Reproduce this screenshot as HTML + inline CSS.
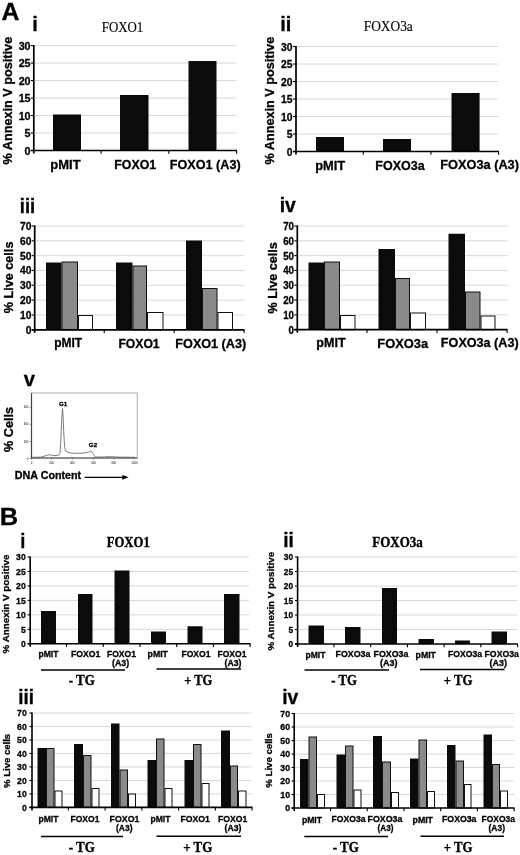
<!DOCTYPE html>
<html><head><meta charset="utf-8"><title>Figure</title>
<style>
html,body{margin:0;padding:0;background:#fff;}
svg{display:block;}
.ss{font-family:'Liberation Sans', sans-serif;fill:#000;stroke:#000;stroke-width:0.3px;}
.sfb{font-family:'Liberation Serif', serif;fill:#000;stroke:#000;stroke-width:0.4px;}
.ns{stroke:none !important;}
.sf{font-family:'Liberation Serif', serif;fill:#000;stroke:#000;stroke-width:0.15px;}
</style></head>
<body>
<svg width="520" height="855" viewBox="0 0 520 855" shape-rendering="auto">
<rect width="520" height="855" fill="#fff"/>
<text class="ss" x="1.50" y="19.75" font-size="24.4" font-weight="bold" textLength="17.90" lengthAdjust="spacingAndGlyphs">A</text>
<text class="ss" x="-0.21" y="524.50" font-size="24.4" font-weight="bold" textLength="18.42" lengthAdjust="spacingAndGlyphs">B</text>
<line x1="33.8" y1="133.02" x2="236" y2="133.02" stroke="#d8d8d8" stroke-width="1"/>
<line x1="33.8" y1="115.53" x2="236" y2="115.53" stroke="#d8d8d8" stroke-width="1"/>
<line x1="33.8" y1="98.05" x2="236" y2="98.05" stroke="#d8d8d8" stroke-width="1"/>
<line x1="33.8" y1="80.57" x2="236" y2="80.57" stroke="#d8d8d8" stroke-width="1"/>
<line x1="33.8" y1="63.08" x2="236" y2="63.08" stroke="#d8d8d8" stroke-width="1"/>
<line x1="33.8" y1="45.60" x2="236" y2="45.60" stroke="#d8d8d8" stroke-width="1"/>
<rect x="53" y="114.5" width="28" height="36.0" fill="#0b0b0b"/>
<rect x="120" y="95" width="28.5" height="55.5" fill="#0b0b0b"/>
<rect x="188.5" y="61" width="28.0" height="89.5" fill="#0b0b0b"/>
<line x1="33.8" y1="45.10" x2="33.8" y2="153.50" stroke="#000" stroke-width="1.7"/>
<line x1="30.799999999999997" y1="150.5" x2="237" y2="150.5" stroke="#000" stroke-width="1.7"/>
<line x1="30.799999999999997" y1="150.50" x2="33.8" y2="150.50" stroke="#000" stroke-width="1.1"/>
<text class="ss" x="24.62" y="154.64" font-size="11.5" font-weight="bold" textLength="5.98" lengthAdjust="spacingAndGlyphs">0</text>
<line x1="30.799999999999997" y1="133.02" x2="33.8" y2="133.02" stroke="#000" stroke-width="1.1"/>
<text class="ss" x="24.62" y="137.16" font-size="11.5" font-weight="bold" textLength="5.98" lengthAdjust="spacingAndGlyphs">5</text>
<line x1="30.799999999999997" y1="115.53" x2="33.8" y2="115.53" stroke="#000" stroke-width="1.1"/>
<text class="ss" x="18.64" y="119.67" font-size="11.5" font-weight="bold" textLength="11.96" lengthAdjust="spacingAndGlyphs">10</text>
<line x1="30.799999999999997" y1="98.05" x2="33.8" y2="98.05" stroke="#000" stroke-width="1.1"/>
<text class="ss" x="18.64" y="102.19" font-size="11.5" font-weight="bold" textLength="11.96" lengthAdjust="spacingAndGlyphs">15</text>
<line x1="30.799999999999997" y1="80.57" x2="33.8" y2="80.57" stroke="#000" stroke-width="1.1"/>
<text class="ss" x="18.64" y="84.71" font-size="11.5" font-weight="bold" textLength="11.96" lengthAdjust="spacingAndGlyphs">20</text>
<line x1="30.799999999999997" y1="63.08" x2="33.8" y2="63.08" stroke="#000" stroke-width="1.1"/>
<text class="ss" x="18.64" y="67.22" font-size="11.5" font-weight="bold" textLength="11.96" lengthAdjust="spacingAndGlyphs">25</text>
<line x1="30.799999999999997" y1="45.60" x2="33.8" y2="45.60" stroke="#000" stroke-width="1.1"/>
<text class="ss" x="18.64" y="49.74" font-size="11.5" font-weight="bold" textLength="11.96" lengthAdjust="spacingAndGlyphs">30</text>
<line x1="101.13" y1="150.5" x2="101.13" y2="153.70" stroke="#000" stroke-width="1.1"/>
<line x1="168.87" y1="150.5" x2="168.87" y2="153.70" stroke="#000" stroke-width="1.1"/>
<line x1="236.60" y1="150.5" x2="236.60" y2="153.70" stroke="#000" stroke-width="1.1"/>
<text class="ss" x="32.30" y="30.60" font-size="20" font-weight="bold" textLength="5.60" lengthAdjust="spacingAndGlyphs">i</text>
<text class="sf" x="101.71" y="31.50" font-size="14.5" font-weight="normal" textLength="41.58" lengthAdjust="spacingAndGlyphs">FOXO1</text>
<text class="ss" transform="translate(11.60,164.50) rotate(-90)" font-size="12.5" font-weight="bold" textLength="127.70" lengthAdjust="spacingAndGlyphs">% Annexin V positive</text>
<text class="ss" x="50.35" y="168.70" font-size="13" font-weight="bold" textLength="30.30" lengthAdjust="spacingAndGlyphs">pMIT</text>
<text class="ss" x="114.35" y="168.70" font-size="13" font-weight="bold" textLength="41.80" lengthAdjust="spacingAndGlyphs">FOXO1</text>
<text class="ss" x="169.85" y="168.60" font-size="13" font-weight="bold" textLength="70.80" lengthAdjust="spacingAndGlyphs">FOXO1 (A3)</text>
<line x1="296" y1="134.00" x2="498" y2="134.00" stroke="#d8d8d8" stroke-width="1"/>
<line x1="296" y1="116.50" x2="498" y2="116.50" stroke="#d8d8d8" stroke-width="1"/>
<line x1="296" y1="99.00" x2="498" y2="99.00" stroke="#d8d8d8" stroke-width="1"/>
<line x1="296" y1="81.50" x2="498" y2="81.50" stroke="#d8d8d8" stroke-width="1"/>
<line x1="296" y1="64.00" x2="498" y2="64.00" stroke="#d8d8d8" stroke-width="1"/>
<line x1="296" y1="46.50" x2="498" y2="46.50" stroke="#d8d8d8" stroke-width="1"/>
<rect x="316" y="137" width="28" height="14.5" fill="#0b0b0b"/>
<rect x="383" y="139" width="28" height="12.5" fill="#0b0b0b"/>
<rect x="451.5" y="93" width="28.100000000000023" height="58.5" fill="#0b0b0b"/>
<line x1="296" y1="46.00" x2="296" y2="154.50" stroke="#000" stroke-width="1.7"/>
<line x1="293" y1="151.5" x2="499" y2="151.5" stroke="#000" stroke-width="1.7"/>
<line x1="293" y1="151.50" x2="296" y2="151.50" stroke="#000" stroke-width="1.1"/>
<text class="ss" x="286.75" y="155.64" font-size="11.5" font-weight="bold" textLength="5.75" lengthAdjust="spacingAndGlyphs">0</text>
<line x1="293" y1="134.00" x2="296" y2="134.00" stroke="#000" stroke-width="1.1"/>
<text class="ss" x="286.75" y="138.14" font-size="11.5" font-weight="bold" textLength="5.75" lengthAdjust="spacingAndGlyphs">5</text>
<line x1="293" y1="116.50" x2="296" y2="116.50" stroke="#000" stroke-width="1.1"/>
<text class="ss" x="281.00" y="120.64" font-size="11.5" font-weight="bold" textLength="11.50" lengthAdjust="spacingAndGlyphs">10</text>
<line x1="293" y1="99.00" x2="296" y2="99.00" stroke="#000" stroke-width="1.1"/>
<text class="ss" x="281.00" y="103.14" font-size="11.5" font-weight="bold" textLength="11.50" lengthAdjust="spacingAndGlyphs">15</text>
<line x1="293" y1="81.50" x2="296" y2="81.50" stroke="#000" stroke-width="1.1"/>
<text class="ss" x="281.00" y="85.64" font-size="11.5" font-weight="bold" textLength="11.50" lengthAdjust="spacingAndGlyphs">20</text>
<line x1="293" y1="64.00" x2="296" y2="64.00" stroke="#000" stroke-width="1.1"/>
<text class="ss" x="281.00" y="68.14" font-size="11.5" font-weight="bold" textLength="11.50" lengthAdjust="spacingAndGlyphs">25</text>
<line x1="293" y1="46.50" x2="296" y2="46.50" stroke="#000" stroke-width="1.1"/>
<text class="ss" x="281.00" y="50.64" font-size="11.5" font-weight="bold" textLength="11.50" lengthAdjust="spacingAndGlyphs">30</text>
<line x1="363.27" y1="151.5" x2="363.27" y2="154.70" stroke="#000" stroke-width="1.1"/>
<line x1="430.93" y1="151.5" x2="430.93" y2="154.70" stroke="#000" stroke-width="1.1"/>
<line x1="498.60" y1="151.5" x2="498.60" y2="154.70" stroke="#000" stroke-width="1.1"/>
<text class="ss" x="280.20" y="30.50" font-size="20" font-weight="bold" textLength="11.10" lengthAdjust="spacingAndGlyphs">ii</text>
<text class="sf" x="363.71" y="31.20" font-size="14.5" font-weight="normal" textLength="49.08" lengthAdjust="spacingAndGlyphs">FOXO3a</text>
<text class="ss" transform="translate(274.20,164.50) rotate(-90)" font-size="12.5" font-weight="bold" textLength="127.70" lengthAdjust="spacingAndGlyphs">% Annexin V positive</text>
<text class="ss" x="315.15" y="169.80" font-size="13" font-weight="bold" textLength="30.00" lengthAdjust="spacingAndGlyphs">pMIT</text>
<text class="ss" x="375.35" y="170.20" font-size="13" font-weight="bold" textLength="49.30" lengthAdjust="spacingAndGlyphs">FOXO3a</text>
<text class="ss" x="440.32" y="169.20" font-size="13.5" font-weight="bold" textLength="78.65" lengthAdjust="spacingAndGlyphs">FOXO3a (A3)</text>
<line x1="34.7" y1="314.97" x2="244" y2="314.97" stroke="#d8d8d8" stroke-width="1"/>
<line x1="34.7" y1="300.14" x2="244" y2="300.14" stroke="#d8d8d8" stroke-width="1"/>
<line x1="34.7" y1="285.31" x2="244" y2="285.31" stroke="#d8d8d8" stroke-width="1"/>
<line x1="34.7" y1="270.49" x2="244" y2="270.49" stroke="#d8d8d8" stroke-width="1"/>
<line x1="34.7" y1="255.66" x2="244" y2="255.66" stroke="#d8d8d8" stroke-width="1"/>
<line x1="34.7" y1="240.83" x2="244" y2="240.83" stroke="#d8d8d8" stroke-width="1"/>
<line x1="34.7" y1="226.00" x2="244" y2="226.00" stroke="#d8d8d8" stroke-width="1"/>
<rect x="46" y="262.5" width="15.5" height="67.30000000000001" fill="#0b0b0b"/>
<rect x="62.0" y="262.0" width="15.5" height="67.80000000000001" fill="#8a8a8a" stroke="#111" stroke-width="1"/>
<rect x="78.5" y="315.5" width="14" height="14.300000000000011" fill="#fff" stroke="#111" stroke-width="1"/>
<rect x="116" y="262.5" width="16.5" height="67.30000000000001" fill="#0b0b0b"/>
<rect x="133.0" y="266.0" width="13.5" height="63.80000000000001" fill="#8a8a8a" stroke="#111" stroke-width="1"/>
<rect x="147.5" y="312.5" width="15.5" height="17.30000000000001" fill="#fff" stroke="#111" stroke-width="1"/>
<rect x="186" y="240.5" width="16" height="89.30000000000001" fill="#0b0b0b"/>
<rect x="202.5" y="288.5" width="14.5" height="41.30000000000001" fill="#8a8a8a" stroke="#111" stroke-width="1"/>
<rect x="218.0" y="312.5" width="14.5" height="17.30000000000001" fill="#fff" stroke="#111" stroke-width="1"/>
<line x1="34.7" y1="225.50" x2="34.7" y2="332.80" stroke="#000" stroke-width="1.7"/>
<line x1="31.700000000000003" y1="329.8" x2="244.5" y2="329.8" stroke="#000" stroke-width="1.7"/>
<line x1="31.700000000000003" y1="329.80" x2="34.7" y2="329.80" stroke="#000" stroke-width="1.1"/>
<text class="ss" x="25.68" y="333.69" font-size="10.8" font-weight="bold" textLength="5.72" lengthAdjust="spacingAndGlyphs">0</text>
<line x1="31.700000000000003" y1="314.97" x2="34.7" y2="314.97" stroke="#000" stroke-width="1.1"/>
<text class="ss" x="19.95" y="318.86" font-size="10.8" font-weight="bold" textLength="11.45" lengthAdjust="spacingAndGlyphs">10</text>
<line x1="31.700000000000003" y1="300.14" x2="34.7" y2="300.14" stroke="#000" stroke-width="1.1"/>
<text class="ss" x="19.95" y="304.03" font-size="10.8" font-weight="bold" textLength="11.45" lengthAdjust="spacingAndGlyphs">20</text>
<line x1="31.700000000000003" y1="285.31" x2="34.7" y2="285.31" stroke="#000" stroke-width="1.1"/>
<text class="ss" x="19.95" y="289.20" font-size="10.8" font-weight="bold" textLength="11.45" lengthAdjust="spacingAndGlyphs">30</text>
<line x1="31.700000000000003" y1="270.49" x2="34.7" y2="270.49" stroke="#000" stroke-width="1.1"/>
<text class="ss" x="19.95" y="274.37" font-size="10.8" font-weight="bold" textLength="11.45" lengthAdjust="spacingAndGlyphs">40</text>
<line x1="31.700000000000003" y1="255.66" x2="34.7" y2="255.66" stroke="#000" stroke-width="1.1"/>
<text class="ss" x="19.95" y="259.55" font-size="10.8" font-weight="bold" textLength="11.45" lengthAdjust="spacingAndGlyphs">50</text>
<line x1="31.700000000000003" y1="240.83" x2="34.7" y2="240.83" stroke="#000" stroke-width="1.1"/>
<text class="ss" x="19.95" y="244.72" font-size="10.8" font-weight="bold" textLength="11.45" lengthAdjust="spacingAndGlyphs">60</text>
<line x1="31.700000000000003" y1="226.00" x2="34.7" y2="226.00" stroke="#000" stroke-width="1.1"/>
<text class="ss" x="19.95" y="229.89" font-size="10.8" font-weight="bold" textLength="11.45" lengthAdjust="spacingAndGlyphs">70</text>
<line x1="104.23" y1="329.8" x2="104.23" y2="333.00" stroke="#000" stroke-width="1.1"/>
<line x1="174.17" y1="329.8" x2="174.17" y2="333.00" stroke="#000" stroke-width="1.1"/>
<line x1="244.10" y1="329.8" x2="244.10" y2="333.00" stroke="#000" stroke-width="1.1"/>
<text class="ss" x="19.80" y="213.00" font-size="20" font-weight="bold" textLength="15.40" lengthAdjust="spacingAndGlyphs">iii</text>
<text class="ss" transform="translate(12.70,313.20) rotate(-90)" font-size="12.5" font-weight="bold" textLength="71.60" lengthAdjust="spacingAndGlyphs">% Live cells</text>
<text class="ss" x="54.17" y="346.60" font-size="12.5" font-weight="bold" textLength="27.95" lengthAdjust="spacingAndGlyphs">pMIT</text>
<text class="ss" x="118.38" y="347.50" font-size="12.5" font-weight="bold" textLength="41.25" lengthAdjust="spacingAndGlyphs">FOXO1</text>
<text class="ss" x="175.38" y="347.50" font-size="12.5" font-weight="bold" textLength="70.75" lengthAdjust="spacingAndGlyphs">FOXO1 (A3)</text>
<line x1="297.3" y1="314.89" x2="507.5" y2="314.89" stroke="#d8d8d8" stroke-width="1"/>
<line x1="297.3" y1="300.07" x2="507.5" y2="300.07" stroke="#d8d8d8" stroke-width="1"/>
<line x1="297.3" y1="285.26" x2="507.5" y2="285.26" stroke="#d8d8d8" stroke-width="1"/>
<line x1="297.3" y1="270.44" x2="507.5" y2="270.44" stroke="#d8d8d8" stroke-width="1"/>
<line x1="297.3" y1="255.63" x2="507.5" y2="255.63" stroke="#d8d8d8" stroke-width="1"/>
<line x1="297.3" y1="240.81" x2="507.5" y2="240.81" stroke="#d8d8d8" stroke-width="1"/>
<line x1="297.3" y1="226.00" x2="507.5" y2="226.00" stroke="#d8d8d8" stroke-width="1"/>
<rect x="308.5" y="262.5" width="15.5" height="67.19999999999999" fill="#0b0b0b"/>
<rect x="324.5" y="262.0" width="15" height="67.69999999999999" fill="#8a8a8a" stroke="#111" stroke-width="1"/>
<rect x="340.5" y="315.5" width="14.5" height="14.199999999999989" fill="#fff" stroke="#111" stroke-width="1"/>
<rect x="378.5" y="249" width="16.5" height="80.69999999999999" fill="#0b0b0b"/>
<rect x="395.5" y="278.5" width="14" height="51.19999999999999" fill="#8a8a8a" stroke="#111" stroke-width="1"/>
<rect x="410.5" y="313.0" width="15" height="16.69999999999999" fill="#fff" stroke="#111" stroke-width="1"/>
<rect x="448.5" y="233.75" width="16.5" height="95.94999999999999" fill="#0b0b0b"/>
<rect x="465.5" y="292.0" width="14.5" height="37.69999999999999" fill="#8a8a8a" stroke="#111" stroke-width="1"/>
<rect x="481.0" y="316.0" width="14.0" height="13.699999999999989" fill="#fff" stroke="#111" stroke-width="1"/>
<line x1="297.3" y1="225.50" x2="297.3" y2="332.70" stroke="#000" stroke-width="1.7"/>
<line x1="294.3" y1="329.7" x2="507.5" y2="329.7" stroke="#000" stroke-width="1.7"/>
<line x1="294.3" y1="329.70" x2="297.3" y2="329.70" stroke="#000" stroke-width="1.1"/>
<text class="ss" x="288.60" y="333.59" font-size="10.8" font-weight="bold" textLength="5.40" lengthAdjust="spacingAndGlyphs">0</text>
<line x1="294.3" y1="314.89" x2="297.3" y2="314.89" stroke="#000" stroke-width="1.1"/>
<text class="ss" x="283.20" y="318.77" font-size="10.8" font-weight="bold" textLength="10.80" lengthAdjust="spacingAndGlyphs">10</text>
<line x1="294.3" y1="300.07" x2="297.3" y2="300.07" stroke="#000" stroke-width="1.1"/>
<text class="ss" x="283.20" y="303.96" font-size="10.8" font-weight="bold" textLength="10.80" lengthAdjust="spacingAndGlyphs">20</text>
<line x1="294.3" y1="285.26" x2="297.3" y2="285.26" stroke="#000" stroke-width="1.1"/>
<text class="ss" x="283.20" y="289.15" font-size="10.8" font-weight="bold" textLength="10.80" lengthAdjust="spacingAndGlyphs">30</text>
<line x1="294.3" y1="270.44" x2="297.3" y2="270.44" stroke="#000" stroke-width="1.1"/>
<text class="ss" x="283.20" y="274.33" font-size="10.8" font-weight="bold" textLength="10.80" lengthAdjust="spacingAndGlyphs">40</text>
<line x1="294.3" y1="255.63" x2="297.3" y2="255.63" stroke="#000" stroke-width="1.1"/>
<text class="ss" x="283.20" y="259.52" font-size="10.8" font-weight="bold" textLength="10.80" lengthAdjust="spacingAndGlyphs">50</text>
<line x1="294.3" y1="240.81" x2="297.3" y2="240.81" stroke="#000" stroke-width="1.1"/>
<text class="ss" x="283.20" y="244.70" font-size="10.8" font-weight="bold" textLength="10.80" lengthAdjust="spacingAndGlyphs">60</text>
<line x1="294.3" y1="226.00" x2="297.3" y2="226.00" stroke="#000" stroke-width="1.1"/>
<text class="ss" x="283.20" y="229.89" font-size="10.8" font-weight="bold" textLength="10.80" lengthAdjust="spacingAndGlyphs">70</text>
<line x1="366.97" y1="329.7" x2="366.97" y2="332.90" stroke="#000" stroke-width="1.1"/>
<line x1="437.03" y1="329.7" x2="437.03" y2="332.90" stroke="#000" stroke-width="1.1"/>
<line x1="507.10" y1="329.7" x2="507.10" y2="332.90" stroke="#000" stroke-width="1.1"/>
<text class="ss" x="279.72" y="212.20" font-size="19.6" font-weight="bold" textLength="16.07" lengthAdjust="spacingAndGlyphs">iv</text>
<text class="ss" transform="translate(276.80,313.50) rotate(-90)" font-size="12.5" font-weight="bold" textLength="71.30" lengthAdjust="spacingAndGlyphs">% Live cells</text>
<text class="ss" x="316.38" y="347.00" font-size="12.5" font-weight="bold" textLength="29.25" lengthAdjust="spacingAndGlyphs">pMIT</text>
<text class="ss" x="377.38" y="348.00" font-size="12.5" font-weight="bold" textLength="50.75" lengthAdjust="spacingAndGlyphs">FOXO3a</text>
<text class="ss" x="440.88" y="347.00" font-size="12.5" font-weight="bold" textLength="77.75" lengthAdjust="spacingAndGlyphs">FOXO3a (A3)</text>
<text class="ss" x="23.78" y="385.60" font-size="21" font-weight="bold" textLength="11.24" lengthAdjust="spacingAndGlyphs">v</text>
<rect x="31.5" y="393" width="105.7" height="65" fill="#fff" stroke="#9a9a9a" stroke-width="0.8"/>
<line x1="31.5" y1="393" x2="31.5" y2="458.4" stroke="#444" stroke-width="1.2"/>
<line x1="31" y1="458" x2="137.5" y2="458" stroke="#444" stroke-width="1.2"/>
<polyline fill="none" stroke="#5c5c5c" stroke-width="0.8" points="32.3,457.3 38,457.2 41.5,457 44,456.3 46.2,455.5 48,455 49.8,454.8 52,455.2 53.8,455.5 56,455.6 57.8,455.4 59.2,454.6 60,453 60.6,445 61.2,431.5 61.9,416 62.5,408.5 63.1,416 63.7,431.5 64.3,442 64.9,448.5 65.8,450.8 67,451.8 69,452.6 70.8,453 73,453.3 75,453 77,453.4 79,453.1 81,453.3 83,453 85.5,452.8 87.7,452.4 89.5,451.7 90.8,451 91.8,452 93.2,453.7 94.3,455.6 95.4,457 100,457 104.6,456.9 110.8,456.7 116,457 125,457.2 135.4,457.3"/>
<text class="ss" x="63.1" y="406.2" font-size="6.2" font-weight="bold" text-anchor="middle">G1</text>
<text class="ss" x="93" y="447.3" font-size="6.2" font-weight="bold" text-anchor="middle">G2</text>
<text class="ss ns" x="28.3" y="408.4" font-size="2.8" fill="#444" text-anchor="end">600</text>
<line x1="29.5" y1="407.4" x2="31.5" y2="407.4" stroke="#555" stroke-width="0.6"/>
<text class="ss ns" x="28.3" y="425.3" font-size="2.8" fill="#444" text-anchor="end">400</text>
<line x1="29.5" y1="424.3" x2="31.5" y2="424.3" stroke="#555" stroke-width="0.6"/>
<text class="ss ns" x="28.3" y="442.5" font-size="2.8" fill="#444" text-anchor="end">200</text>
<line x1="29.5" y1="441.5" x2="31.5" y2="441.5" stroke="#555" stroke-width="0.6"/>
<text class="ss ns" x="28.3" y="459.5" font-size="2.8" fill="#444" text-anchor="end">0</text>
<line x1="29.5" y1="458.5" x2="31.5" y2="458.5" stroke="#555" stroke-width="0.6"/>
<text class="ss ns" x="31.5" y="463.6" font-size="2.8" fill="#444" text-anchor="middle">0</text>
<line x1="31.5" y1="458" x2="31.5" y2="459.6" stroke="#555" stroke-width="0.6"/>
<text class="ss ns" x="51.5" y="463.6" font-size="2.8" fill="#444" text-anchor="middle">200</text>
<line x1="51.5" y1="458" x2="51.5" y2="459.6" stroke="#555" stroke-width="0.6"/>
<text class="ss ns" x="72.3" y="463.6" font-size="2.8" fill="#444" text-anchor="middle">400</text>
<line x1="72.3" y1="458" x2="72.3" y2="459.6" stroke="#555" stroke-width="0.6"/>
<text class="ss ns" x="93.5" y="463.6" font-size="2.8" fill="#444" text-anchor="middle">600</text>
<line x1="93.5" y1="458" x2="93.5" y2="459.6" stroke="#555" stroke-width="0.6"/>
<text class="ss ns" x="113.8" y="463.6" font-size="2.8" fill="#444" text-anchor="middle">800</text>
<line x1="113.8" y1="458" x2="113.8" y2="459.6" stroke="#555" stroke-width="0.6"/>
<text class="ss ns" x="134.4" y="463.6" font-size="2.8" fill="#444" text-anchor="middle">1000</text>
<line x1="134.4" y1="458" x2="134.4" y2="459.6" stroke="#555" stroke-width="0.6"/>
<text class="ss" transform="translate(13.00,452.00) rotate(-90)" font-size="12.5" font-weight="bold" textLength="45.00" lengthAdjust="spacingAndGlyphs">% Cells</text>
<text class="ss" x="14.88" y="478.70" font-size="10.5" font-weight="bold" textLength="66.25" lengthAdjust="spacingAndGlyphs">DNA Content</text>
<line x1="84.6" y1="477.3" x2="124" y2="477.3" stroke="#000" stroke-width="1.2"/>
<polygon points="122.3,474.9 128.6,477.3 122.3,479.7" fill="#000"/>
<line x1="30.2" y1="629.33" x2="249" y2="629.33" stroke="#d8d8d8" stroke-width="1"/>
<line x1="30.2" y1="614.87" x2="249" y2="614.87" stroke="#d8d8d8" stroke-width="1"/>
<line x1="30.2" y1="600.40" x2="249" y2="600.40" stroke="#d8d8d8" stroke-width="1"/>
<line x1="30.2" y1="585.93" x2="249" y2="585.93" stroke="#d8d8d8" stroke-width="1"/>
<line x1="30.2" y1="571.47" x2="249" y2="571.47" stroke="#d8d8d8" stroke-width="1"/>
<line x1="30.2" y1="557.00" x2="249" y2="557.00" stroke="#d8d8d8" stroke-width="1"/>
<rect x="41" y="611" width="15" height="32.799999999999955" fill="#0b0b0b"/>
<rect x="78" y="594" width="14.5" height="49.799999999999955" fill="#0b0b0b"/>
<rect x="114.5" y="570.5" width="15.0" height="73.29999999999995" fill="#0b0b0b"/>
<rect x="151" y="631.5" width="15" height="12.299999999999955" fill="#0b0b0b"/>
<rect x="187.5" y="626.25" width="15.0" height="17.549999999999955" fill="#0b0b0b"/>
<rect x="224" y="594" width="15.5" height="49.799999999999955" fill="#0b0b0b"/>
<line x1="30.2" y1="556.50" x2="30.2" y2="646.80" stroke="#000" stroke-width="1.6"/>
<line x1="27.599999999999998" y1="643.8" x2="250.5" y2="643.8" stroke="#000" stroke-width="1.6"/>
<line x1="27.599999999999998" y1="643.80" x2="30.2" y2="643.80" stroke="#000" stroke-width="1.1"/>
<text class="ss" x="20.90" y="647.26" font-size="9.6" font-weight="bold" textLength="4.80" lengthAdjust="spacingAndGlyphs">0</text>
<line x1="27.599999999999998" y1="629.33" x2="30.2" y2="629.33" stroke="#000" stroke-width="1.1"/>
<text class="ss" x="20.90" y="632.79" font-size="9.6" font-weight="bold" textLength="4.80" lengthAdjust="spacingAndGlyphs">5</text>
<line x1="27.599999999999998" y1="614.87" x2="30.2" y2="614.87" stroke="#000" stroke-width="1.1"/>
<text class="ss" x="16.10" y="618.32" font-size="9.6" font-weight="bold" textLength="9.60" lengthAdjust="spacingAndGlyphs">10</text>
<line x1="27.599999999999998" y1="600.40" x2="30.2" y2="600.40" stroke="#000" stroke-width="1.1"/>
<text class="ss" x="16.10" y="603.86" font-size="9.6" font-weight="bold" textLength="9.60" lengthAdjust="spacingAndGlyphs">15</text>
<line x1="27.599999999999998" y1="585.93" x2="30.2" y2="585.93" stroke="#000" stroke-width="1.1"/>
<text class="ss" x="16.10" y="589.39" font-size="9.6" font-weight="bold" textLength="9.60" lengthAdjust="spacingAndGlyphs">20</text>
<line x1="27.599999999999998" y1="571.47" x2="30.2" y2="571.47" stroke="#000" stroke-width="1.1"/>
<text class="ss" x="16.10" y="574.92" font-size="9.6" font-weight="bold" textLength="9.60" lengthAdjust="spacingAndGlyphs">25</text>
<line x1="27.599999999999998" y1="557.00" x2="30.2" y2="557.00" stroke="#000" stroke-width="1.1"/>
<text class="ss" x="16.10" y="560.46" font-size="9.6" font-weight="bold" textLength="9.60" lengthAdjust="spacingAndGlyphs">30</text>
<line x1="66.52" y1="643.8" x2="66.52" y2="647.00" stroke="#000" stroke-width="1.1"/>
<line x1="103.23" y1="643.8" x2="103.23" y2="647.00" stroke="#000" stroke-width="1.1"/>
<line x1="139.95" y1="643.8" x2="139.95" y2="647.00" stroke="#000" stroke-width="1.1"/>
<line x1="176.67" y1="643.8" x2="176.67" y2="647.00" stroke="#000" stroke-width="1.1"/>
<line x1="213.38" y1="643.8" x2="213.38" y2="647.00" stroke="#000" stroke-width="1.1"/>
<line x1="250.10" y1="643.8" x2="250.10" y2="647.00" stroke="#000" stroke-width="1.1"/>
<text class="ss" x="20.20" y="547.50" font-size="20" font-weight="bold" textLength="5.10" lengthAdjust="spacingAndGlyphs">i</text>
<text class="sfb" x="106.71" y="547.00" font-size="14.5" font-weight="bold" textLength="43.08" lengthAdjust="spacingAndGlyphs">FOXO1</text>
<text class="ss" transform="translate(9.10,653.39) rotate(-90)" font-size="9.7" font-weight="bold" textLength="98.78" lengthAdjust="spacingAndGlyphs">% Annexin V positive</text>
<text class="ss" x="38.54" y="657.00" font-size="9.2" font-weight="bold" textLength="19.92" lengthAdjust="spacingAndGlyphs">pMIT</text>
<text class="ss" x="71.04" y="656.50" font-size="9.2" font-weight="bold" textLength="29.42" lengthAdjust="spacingAndGlyphs">FOXO1</text>
<text class="ss" x="107.04" y="656.50" font-size="9.2" font-weight="bold" textLength="28.92" lengthAdjust="spacingAndGlyphs">FOXO1</text>
<text class="ss" x="112.04" y="666.00" font-size="9.2" font-weight="bold" textLength="17.17" lengthAdjust="spacingAndGlyphs">(A3)</text>
<text class="ss" x="147.54" y="657.00" font-size="9.2" font-weight="bold" textLength="20.42" lengthAdjust="spacingAndGlyphs">pMIT</text>
<text class="ss" x="181.54" y="656.50" font-size="9.2" font-weight="bold" textLength="28.92" lengthAdjust="spacingAndGlyphs">FOXO1</text>
<text class="ss" x="217.54" y="656.50" font-size="9.2" font-weight="bold" textLength="28.92" lengthAdjust="spacingAndGlyphs">FOXO1</text>
<text class="ss" x="224.54" y="665.50" font-size="9.2" font-weight="bold" textLength="16.92" lengthAdjust="spacingAndGlyphs">(A3)</text>
<line x1="41" y1="670.1" x2="125" y2="670.1" stroke="#000" stroke-width="1.5"/>
<line x1="156.5" y1="669" x2="241" y2="669" stroke="#000" stroke-width="1.5"/>
<text class="sfb" x="68.71" y="685.00" font-size="14.6" font-weight="bold" textLength="26.08" lengthAdjust="spacingAndGlyphs">- TG</text>
<text class="sfb" x="184.21" y="685.00" font-size="14.6" font-weight="bold" textLength="28.08" lengthAdjust="spacingAndGlyphs">+ TG</text>
<line x1="297.6" y1="629.50" x2="517.5" y2="629.50" stroke="#d8d8d8" stroke-width="1"/>
<line x1="297.6" y1="615.00" x2="517.5" y2="615.00" stroke="#d8d8d8" stroke-width="1"/>
<line x1="297.6" y1="600.50" x2="517.5" y2="600.50" stroke="#d8d8d8" stroke-width="1"/>
<line x1="297.6" y1="586.00" x2="517.5" y2="586.00" stroke="#d8d8d8" stroke-width="1"/>
<line x1="297.6" y1="571.50" x2="517.5" y2="571.50" stroke="#d8d8d8" stroke-width="1"/>
<line x1="297.6" y1="557.00" x2="517.5" y2="557.00" stroke="#d8d8d8" stroke-width="1"/>
<rect x="308.5" y="625.5" width="15.5" height="18.5" fill="#0b0b0b"/>
<rect x="345" y="627" width="15.5" height="17" fill="#0b0b0b"/>
<rect x="382" y="588" width="15" height="56" fill="#0b0b0b"/>
<rect x="418.5" y="639" width="15.5" height="5" fill="#0b0b0b"/>
<rect x="455" y="640.5" width="15" height="3.5" fill="#0b0b0b"/>
<rect x="491.5" y="631.5" width="15.5" height="12.5" fill="#0b0b0b"/>
<line x1="297.6" y1="556.50" x2="297.6" y2="647.00" stroke="#000" stroke-width="1.6"/>
<line x1="295.0" y1="644" x2="518" y2="644" stroke="#000" stroke-width="1.6"/>
<line x1="295.0" y1="644.00" x2="297.6" y2="644.00" stroke="#000" stroke-width="1.1"/>
<text class="ss" x="288.39" y="647.46" font-size="9.6" font-weight="bold" textLength="4.61" lengthAdjust="spacingAndGlyphs">0</text>
<line x1="295.0" y1="629.50" x2="297.6" y2="629.50" stroke="#000" stroke-width="1.1"/>
<text class="ss" x="288.39" y="632.96" font-size="9.6" font-weight="bold" textLength="4.61" lengthAdjust="spacingAndGlyphs">5</text>
<line x1="295.0" y1="615.00" x2="297.6" y2="615.00" stroke="#000" stroke-width="1.1"/>
<text class="ss" x="283.78" y="618.46" font-size="9.6" font-weight="bold" textLength="9.22" lengthAdjust="spacingAndGlyphs">10</text>
<line x1="295.0" y1="600.50" x2="297.6" y2="600.50" stroke="#000" stroke-width="1.1"/>
<text class="ss" x="283.78" y="603.96" font-size="9.6" font-weight="bold" textLength="9.22" lengthAdjust="spacingAndGlyphs">15</text>
<line x1="295.0" y1="586.00" x2="297.6" y2="586.00" stroke="#000" stroke-width="1.1"/>
<text class="ss" x="283.78" y="589.46" font-size="9.6" font-weight="bold" textLength="9.22" lengthAdjust="spacingAndGlyphs">20</text>
<line x1="295.0" y1="571.50" x2="297.6" y2="571.50" stroke="#000" stroke-width="1.1"/>
<text class="ss" x="283.78" y="574.96" font-size="9.6" font-weight="bold" textLength="9.22" lengthAdjust="spacingAndGlyphs">25</text>
<line x1="295.0" y1="557.00" x2="297.6" y2="557.00" stroke="#000" stroke-width="1.1"/>
<text class="ss" x="283.78" y="560.46" font-size="9.6" font-weight="bold" textLength="9.22" lengthAdjust="spacingAndGlyphs">30</text>
<line x1="333.93" y1="644" x2="333.93" y2="647.20" stroke="#000" stroke-width="1.1"/>
<line x1="370.67" y1="644" x2="370.67" y2="647.20" stroke="#000" stroke-width="1.1"/>
<line x1="407.40" y1="644" x2="407.40" y2="647.20" stroke="#000" stroke-width="1.1"/>
<line x1="444.13" y1="644" x2="444.13" y2="647.20" stroke="#000" stroke-width="1.1"/>
<line x1="480.87" y1="644" x2="480.87" y2="647.20" stroke="#000" stroke-width="1.1"/>
<line x1="517.60" y1="644" x2="517.60" y2="647.20" stroke="#000" stroke-width="1.1"/>
<text class="ss" x="283.20" y="547.00" font-size="20" font-weight="bold" textLength="10.60" lengthAdjust="spacingAndGlyphs">ii</text>
<text class="sfb" x="372.21" y="546.70" font-size="14.5" font-weight="bold" textLength="50.58" lengthAdjust="spacingAndGlyphs">FOXO3a</text>
<text class="ss" transform="translate(274.20,650.59) rotate(-90)" font-size="9.7" font-weight="bold" textLength="98.68" lengthAdjust="spacingAndGlyphs">% Annexin V positive</text>
<text class="ss" x="305.54" y="657.50" font-size="9.2" font-weight="bold" textLength="19.92" lengthAdjust="spacingAndGlyphs">pMIT</text>
<text class="ss" x="335.54" y="657.00" font-size="9.2" font-weight="bold" textLength="34.92" lengthAdjust="spacingAndGlyphs">FOXO3a</text>
<text class="ss" x="373.54" y="657.00" font-size="9.2" font-weight="bold" textLength="34.92" lengthAdjust="spacingAndGlyphs">FOXO3a</text>
<text class="ss" x="380.04" y="665.50" font-size="9.2" font-weight="bold" textLength="17.42" lengthAdjust="spacingAndGlyphs">(A3)</text>
<text class="ss" x="415.54" y="657.50" font-size="9.2" font-weight="bold" textLength="20.42" lengthAdjust="spacingAndGlyphs">pMIT</text>
<text class="ss" x="448.04" y="657.00" font-size="9.2" font-weight="bold" textLength="33.92" lengthAdjust="spacingAndGlyphs">FOXO3a</text>
<text class="ss" x="484.54" y="657.00" font-size="9.2" font-weight="bold" textLength="34.42" lengthAdjust="spacingAndGlyphs">FOXO3a</text>
<text class="ss" x="489.54" y="666.00" font-size="9.2" font-weight="bold" textLength="17.42" lengthAdjust="spacingAndGlyphs">(A3)</text>
<line x1="304.5" y1="670" x2="389" y2="670" stroke="#000" stroke-width="1.5"/>
<line x1="420" y1="669.5" x2="504.5" y2="669.5" stroke="#000" stroke-width="1.5"/>
<text class="sfb" x="331.21" y="685.00" font-size="14.6" font-weight="bold" textLength="25.58" lengthAdjust="spacingAndGlyphs">- TG</text>
<text class="sfb" x="443.71" y="685.00" font-size="14.6" font-weight="bold" textLength="28.58" lengthAdjust="spacingAndGlyphs">+ TG</text>
<line x1="32" y1="793.91" x2="251.5" y2="793.91" stroke="#d8d8d8" stroke-width="1"/>
<line x1="32" y1="780.43" x2="251.5" y2="780.43" stroke="#d8d8d8" stroke-width="1"/>
<line x1="32" y1="766.94" x2="251.5" y2="766.94" stroke="#d8d8d8" stroke-width="1"/>
<line x1="32" y1="753.46" x2="251.5" y2="753.46" stroke="#d8d8d8" stroke-width="1"/>
<line x1="32" y1="739.97" x2="251.5" y2="739.97" stroke="#d8d8d8" stroke-width="1"/>
<line x1="32" y1="726.49" x2="251.5" y2="726.49" stroke="#d8d8d8" stroke-width="1"/>
<line x1="32" y1="713.00" x2="251.5" y2="713.00" stroke="#d8d8d8" stroke-width="1"/>
<rect x="37.5" y="748" width="8.5" height="59.39999999999998" fill="#0b0b0b"/>
<rect x="46.5" y="748.5" width="7.5" height="58.89999999999998" fill="#8a8a8a" stroke="#111" stroke-width="1"/>
<rect x="55.0" y="791.0" width="7.0" height="16.399999999999977" fill="#fff" stroke="#111" stroke-width="1"/>
<rect x="74" y="744" width="9" height="63.39999999999998" fill="#0b0b0b"/>
<rect x="83.5" y="755.5" width="7.5" height="51.89999999999998" fill="#8a8a8a" stroke="#111" stroke-width="1"/>
<rect x="92.0" y="788.5" width="7.0" height="18.899999999999977" fill="#fff" stroke="#111" stroke-width="1"/>
<rect x="111" y="723.5" width="8.5" height="83.89999999999998" fill="#0b0b0b"/>
<rect x="120.0" y="770.0" width="7.5" height="37.39999999999998" fill="#8a8a8a" stroke="#111" stroke-width="1"/>
<rect x="128.5" y="794.0" width="7" height="13.399999999999977" fill="#fff" stroke="#111" stroke-width="1"/>
<rect x="147.5" y="760" width="8.5" height="47.39999999999998" fill="#0b0b0b"/>
<rect x="156.5" y="739.0" width="7.5" height="68.39999999999998" fill="#8a8a8a" stroke="#111" stroke-width="1"/>
<rect x="165.0" y="788.5" width="7.0" height="18.899999999999977" fill="#fff" stroke="#111" stroke-width="1"/>
<rect x="184.5" y="760" width="8.5" height="47.39999999999998" fill="#0b0b0b"/>
<rect x="193.5" y="744.5" width="7.5" height="62.89999999999998" fill="#8a8a8a" stroke="#111" stroke-width="1"/>
<rect x="202.0" y="783.5" width="7.0" height="23.899999999999977" fill="#fff" stroke="#111" stroke-width="1"/>
<rect x="221" y="730.5" width="9" height="76.89999999999998" fill="#0b0b0b"/>
<rect x="230.5" y="766.0" width="7" height="41.39999999999998" fill="#8a8a8a" stroke="#111" stroke-width="1"/>
<rect x="238.5" y="791.0" width="7.5" height="16.399999999999977" fill="#fff" stroke="#111" stroke-width="1"/>
<line x1="32" y1="712.50" x2="32" y2="810.40" stroke="#000" stroke-width="1.6"/>
<line x1="29.4" y1="807.4" x2="252.5" y2="807.4" stroke="#000" stroke-width="1.6"/>
<line x1="29.4" y1="807.40" x2="32" y2="807.40" stroke="#000" stroke-width="1.1"/>
<text class="ss" x="21.90" y="810.86" font-size="9.6" font-weight="bold" textLength="4.80" lengthAdjust="spacingAndGlyphs">0</text>
<line x1="29.4" y1="793.91" x2="32" y2="793.91" stroke="#000" stroke-width="1.1"/>
<text class="ss" x="17.10" y="797.37" font-size="9.6" font-weight="bold" textLength="9.60" lengthAdjust="spacingAndGlyphs">10</text>
<line x1="29.4" y1="780.43" x2="32" y2="780.43" stroke="#000" stroke-width="1.1"/>
<text class="ss" x="17.10" y="783.88" font-size="9.6" font-weight="bold" textLength="9.60" lengthAdjust="spacingAndGlyphs">20</text>
<line x1="29.4" y1="766.94" x2="32" y2="766.94" stroke="#000" stroke-width="1.1"/>
<text class="ss" x="17.10" y="770.40" font-size="9.6" font-weight="bold" textLength="9.60" lengthAdjust="spacingAndGlyphs">30</text>
<line x1="29.4" y1="753.46" x2="32" y2="753.46" stroke="#000" stroke-width="1.1"/>
<text class="ss" x="17.10" y="756.91" font-size="9.6" font-weight="bold" textLength="9.60" lengthAdjust="spacingAndGlyphs">40</text>
<line x1="29.4" y1="739.97" x2="32" y2="739.97" stroke="#000" stroke-width="1.1"/>
<text class="ss" x="17.10" y="743.43" font-size="9.6" font-weight="bold" textLength="9.60" lengthAdjust="spacingAndGlyphs">50</text>
<line x1="29.4" y1="726.49" x2="32" y2="726.49" stroke="#000" stroke-width="1.1"/>
<text class="ss" x="17.10" y="729.94" font-size="9.6" font-weight="bold" textLength="9.60" lengthAdjust="spacingAndGlyphs">60</text>
<line x1="29.4" y1="713.00" x2="32" y2="713.00" stroke="#000" stroke-width="1.1"/>
<text class="ss" x="17.10" y="716.46" font-size="9.6" font-weight="bold" textLength="9.60" lengthAdjust="spacingAndGlyphs">70</text>
<line x1="68.35" y1="807.4" x2="68.35" y2="810.60" stroke="#000" stroke-width="1.1"/>
<line x1="105.10" y1="807.4" x2="105.10" y2="810.60" stroke="#000" stroke-width="1.1"/>
<line x1="141.85" y1="807.4" x2="141.85" y2="810.60" stroke="#000" stroke-width="1.1"/>
<line x1="178.60" y1="807.4" x2="178.60" y2="810.60" stroke="#000" stroke-width="1.1"/>
<line x1="215.35" y1="807.4" x2="215.35" y2="810.60" stroke="#000" stroke-width="1.1"/>
<line x1="252.10" y1="807.4" x2="252.10" y2="810.60" stroke="#000" stroke-width="1.1"/>
<text class="ss" x="18.20" y="704.20" font-size="20" font-weight="bold" textLength="15.70" lengthAdjust="spacingAndGlyphs">iii</text>
<text class="ss" transform="translate(9.80,787.88) rotate(-90)" font-size="9.5" font-weight="bold" textLength="54.06" lengthAdjust="spacingAndGlyphs">% Live cells</text>
<text class="ss" x="38.54" y="822.00" font-size="9.2" font-weight="bold" textLength="19.92" lengthAdjust="spacingAndGlyphs">pMIT</text>
<text class="ss" x="70.54" y="822.00" font-size="9.2" font-weight="bold" textLength="28.92" lengthAdjust="spacingAndGlyphs">FOXO1</text>
<text class="ss" x="109.54" y="822.00" font-size="9.2" font-weight="bold" textLength="29.92" lengthAdjust="spacingAndGlyphs">FOXO1</text>
<text class="ss" x="116.04" y="830.50" font-size="9.2" font-weight="bold" textLength="16.42" lengthAdjust="spacingAndGlyphs">(A3)</text>
<text class="ss" x="150.54" y="822.00" font-size="9.2" font-weight="bold" textLength="19.92" lengthAdjust="spacingAndGlyphs">pMIT</text>
<text class="ss" x="180.54" y="821.50" font-size="9.2" font-weight="bold" textLength="29.42" lengthAdjust="spacingAndGlyphs">FOXO1</text>
<text class="ss" x="218.04" y="821.50" font-size="9.2" font-weight="bold" textLength="29.42" lengthAdjust="spacingAndGlyphs">FOXO1</text>
<text class="ss" x="224.54" y="831.00" font-size="9.2" font-weight="bold" textLength="16.92" lengthAdjust="spacingAndGlyphs">(A3)</text>
<line x1="41" y1="836.6" x2="123" y2="836.6" stroke="#000" stroke-width="1.5"/>
<line x1="156.5" y1="836.2" x2="241" y2="836.2" stroke="#000" stroke-width="1.5"/>
<text class="sfb" x="68.71" y="851.50" font-size="14.6" font-weight="bold" textLength="26.08" lengthAdjust="spacingAndGlyphs">- TG</text>
<text class="sfb" x="183.21" y="851.50" font-size="14.6" font-weight="bold" textLength="29.08" lengthAdjust="spacingAndGlyphs">+ TG</text>
<line x1="294.2" y1="794.50" x2="514" y2="794.50" stroke="#d8d8d8" stroke-width="1"/>
<line x1="294.2" y1="781.00" x2="514" y2="781.00" stroke="#d8d8d8" stroke-width="1"/>
<line x1="294.2" y1="767.50" x2="514" y2="767.50" stroke="#d8d8d8" stroke-width="1"/>
<line x1="294.2" y1="754.00" x2="514" y2="754.00" stroke="#d8d8d8" stroke-width="1"/>
<line x1="294.2" y1="740.50" x2="514" y2="740.50" stroke="#d8d8d8" stroke-width="1"/>
<line x1="294.2" y1="727.00" x2="514" y2="727.00" stroke="#d8d8d8" stroke-width="1"/>
<line x1="294.2" y1="713.50" x2="514" y2="713.50" stroke="#d8d8d8" stroke-width="1"/>
<rect x="300" y="759" width="8.5" height="49" fill="#0b0b0b"/>
<rect x="309.0" y="737.0" width="7.5" height="71.0" fill="#8a8a8a" stroke="#111" stroke-width="1"/>
<rect x="317.5" y="794.5" width="7" height="13.5" fill="#fff" stroke="#111" stroke-width="1"/>
<rect x="336.5" y="754.5" width="8.5" height="53.5" fill="#0b0b0b"/>
<rect x="345.5" y="746.0" width="7.5" height="62.0" fill="#8a8a8a" stroke="#111" stroke-width="1"/>
<rect x="354.0" y="790.0" width="7.0" height="18.0" fill="#fff" stroke="#111" stroke-width="1"/>
<rect x="373" y="736" width="9" height="72" fill="#0b0b0b"/>
<rect x="382.5" y="762.0" width="8" height="46.0" fill="#8a8a8a" stroke="#111" stroke-width="1"/>
<rect x="391.5" y="792.5" width="7" height="15.5" fill="#fff" stroke="#111" stroke-width="1"/>
<rect x="410" y="758.5" width="8.5" height="49.5" fill="#0b0b0b"/>
<rect x="419.0" y="740.0" width="7.5" height="68.0" fill="#8a8a8a" stroke="#111" stroke-width="1"/>
<rect x="427.5" y="791.5" width="7" height="16.5" fill="#fff" stroke="#111" stroke-width="1"/>
<rect x="447" y="745" width="8.5" height="63" fill="#0b0b0b"/>
<rect x="456.0" y="761.0" width="7.5" height="47.0" fill="#8a8a8a" stroke="#111" stroke-width="1"/>
<rect x="464.5" y="784.5" width="6.5" height="23.5" fill="#fff" stroke="#111" stroke-width="1"/>
<rect x="483.5" y="734.5" width="8.5" height="73.5" fill="#0b0b0b"/>
<rect x="492.5" y="764.5" width="7" height="43.5" fill="#8a8a8a" stroke="#111" stroke-width="1"/>
<rect x="500.5" y="791.0" width="7" height="17.0" fill="#fff" stroke="#111" stroke-width="1"/>
<line x1="294.2" y1="713.00" x2="294.2" y2="811.00" stroke="#000" stroke-width="1.6"/>
<line x1="291.59999999999997" y1="808" x2="514.5" y2="808" stroke="#000" stroke-width="1.6"/>
<line x1="291.59999999999997" y1="808.00" x2="294.2" y2="808.00" stroke="#000" stroke-width="1.1"/>
<text class="ss" x="285.20" y="811.46" font-size="9.6" font-weight="bold" textLength="4.90" lengthAdjust="spacingAndGlyphs">0</text>
<line x1="291.59999999999997" y1="794.50" x2="294.2" y2="794.50" stroke="#000" stroke-width="1.1"/>
<text class="ss" x="280.31" y="797.96" font-size="9.6" font-weight="bold" textLength="9.79" lengthAdjust="spacingAndGlyphs">10</text>
<line x1="291.59999999999997" y1="781.00" x2="294.2" y2="781.00" stroke="#000" stroke-width="1.1"/>
<text class="ss" x="280.31" y="784.46" font-size="9.6" font-weight="bold" textLength="9.79" lengthAdjust="spacingAndGlyphs">20</text>
<line x1="291.59999999999997" y1="767.50" x2="294.2" y2="767.50" stroke="#000" stroke-width="1.1"/>
<text class="ss" x="280.31" y="770.96" font-size="9.6" font-weight="bold" textLength="9.79" lengthAdjust="spacingAndGlyphs">30</text>
<line x1="291.59999999999997" y1="754.00" x2="294.2" y2="754.00" stroke="#000" stroke-width="1.1"/>
<text class="ss" x="280.31" y="757.46" font-size="9.6" font-weight="bold" textLength="9.79" lengthAdjust="spacingAndGlyphs">40</text>
<line x1="291.59999999999997" y1="740.50" x2="294.2" y2="740.50" stroke="#000" stroke-width="1.1"/>
<text class="ss" x="280.31" y="743.96" font-size="9.6" font-weight="bold" textLength="9.79" lengthAdjust="spacingAndGlyphs">50</text>
<line x1="291.59999999999997" y1="727.00" x2="294.2" y2="727.00" stroke="#000" stroke-width="1.1"/>
<text class="ss" x="280.31" y="730.46" font-size="9.6" font-weight="bold" textLength="9.79" lengthAdjust="spacingAndGlyphs">60</text>
<line x1="291.59999999999997" y1="713.50" x2="294.2" y2="713.50" stroke="#000" stroke-width="1.1"/>
<text class="ss" x="280.31" y="716.96" font-size="9.6" font-weight="bold" textLength="9.79" lengthAdjust="spacingAndGlyphs">70</text>
<line x1="330.52" y1="808" x2="330.52" y2="811.20" stroke="#000" stroke-width="1.1"/>
<line x1="367.23" y1="808" x2="367.23" y2="811.20" stroke="#000" stroke-width="1.1"/>
<line x1="403.95" y1="808" x2="403.95" y2="811.20" stroke="#000" stroke-width="1.1"/>
<line x1="440.67" y1="808" x2="440.67" y2="811.20" stroke="#000" stroke-width="1.1"/>
<line x1="477.38" y1="808" x2="477.38" y2="811.20" stroke="#000" stroke-width="1.1"/>
<line x1="514.10" y1="808" x2="514.10" y2="811.20" stroke="#000" stroke-width="1.1"/>
<text class="ss" x="282.20" y="704.00" font-size="20" font-weight="bold" textLength="16.10" lengthAdjust="spacingAndGlyphs">iv</text>
<text class="ss" transform="translate(271.90,787.68) rotate(-90)" font-size="9.5" font-weight="bold" textLength="54.56" lengthAdjust="spacingAndGlyphs">% Live cells</text>
<text class="ss" x="302.04" y="822.50" font-size="9.2" font-weight="bold" textLength="19.92" lengthAdjust="spacingAndGlyphs">pMIT</text>
<text class="ss" x="331.54" y="822.00" font-size="9.2" font-weight="bold" textLength="33.92" lengthAdjust="spacingAndGlyphs">FOXO3a</text>
<text class="ss" x="367.54" y="822.00" font-size="9.2" font-weight="bold" textLength="34.92" lengthAdjust="spacingAndGlyphs">FOXO3a</text>
<text class="ss" x="377.54" y="831.00" font-size="9.2" font-weight="bold" textLength="15.92" lengthAdjust="spacingAndGlyphs">(A3)</text>
<text class="ss" x="412.54" y="823.00" font-size="9.2" font-weight="bold" textLength="20.42" lengthAdjust="spacingAndGlyphs">pMIT</text>
<text class="ss" x="442.04" y="822.00" font-size="9.2" font-weight="bold" textLength="34.42" lengthAdjust="spacingAndGlyphs">FOXO3a</text>
<text class="ss" x="481.54" y="822.00" font-size="9.2" font-weight="bold" textLength="33.42" lengthAdjust="spacingAndGlyphs">FOXO3a</text>
<text class="ss" x="488.54" y="831.00" font-size="9.2" font-weight="bold" textLength="16.42" lengthAdjust="spacingAndGlyphs">(A3)</text>
<line x1="304.3" y1="836.6" x2="388" y2="836.6" stroke="#000" stroke-width="1.5"/>
<line x1="420.5" y1="836.2" x2="504" y2="836.2" stroke="#000" stroke-width="1.5"/>
<text class="sfb" x="332.71" y="851.50" font-size="14.6" font-weight="bold" textLength="26.08" lengthAdjust="spacingAndGlyphs">- TG</text>
<text class="sfb" x="443.71" y="851.50" font-size="14.6" font-weight="bold" textLength="28.58" lengthAdjust="spacingAndGlyphs">+ TG</text>
</svg>
</body></html>
